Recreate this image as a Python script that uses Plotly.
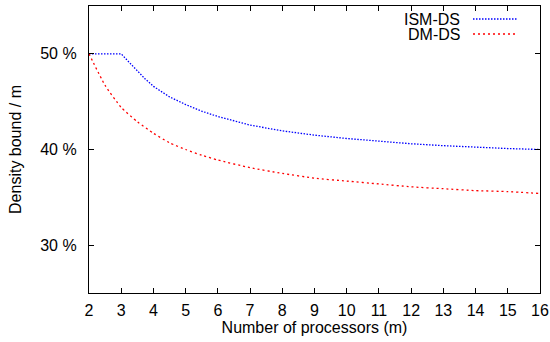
import plotly.graph_objects as go

# Number of processors (m)
m_ism = [2, 2.5, 3, 3.25, 3.5, 3.75, 4, 4.5, 5, 5.5, 6, 7, 8, 9, 10, 11, 12, 13, 14, 15, 16]
ism_ds = [50.0, 50.0, 50.0, 49.1, 48.2, 47.35, 46.6, 45.5, 44.7, 44.0, 43.45, 42.55, 41.95,
          41.5, 41.15, 40.85, 40.6, 40.4, 40.22, 40.1, 40.0]

m_dm = [2, 2.5, 3, 3.5, 4, 4.5, 5, 5.5, 6, 7, 8, 9, 10, 11, 12, 13, 14, 15, 16]
dm_ds = [50.0, 46.7, 44.4, 42.9, 41.7, 40.7, 40.0, 39.4, 38.9, 38.1, 37.5,
         37.0, 36.7, 36.4, 36.1, 35.9, 35.7, 35.6, 35.4]

x_ticks = list(range(2, 17))
y_ticks = [30, 40, 50]
y_tick_text = ["30 %", "40 %", "50 %"]

FONT = "Liberation Sans, Arial, sans-serif"
FS = 16
BLUE = "#0000ff"
RED = "#ff0000"
BLUE_DASH = "1.5px,1.5px"
RED_DASH = "2px,3px"

fig = go.Figure()
fig.add_trace(go.Scatter(x=m_ism, y=ism_ds, mode="lines", name="ISM-DS",
                         line=dict(color=BLUE, width=1.3, dash=BLUE_DASH, shape="linear")))
fig.add_trace(go.Scatter(x=m_dm, y=dm_ds, mode="lines", name="DM-DS",
                         line=dict(color=RED, width=1.3, dash=RED_DASH, shape="spline", smoothing=0.5)))

L, R, T, B = 89, 10, 6, 49
W, H = 550, 342
pw = W - L - R
ph = H - T - B

def px(xp):
    return (xp - L) / pw

def py(yp):
    return (H - B - yp) / ph

# Legend drawn gnuplot style: text right-aligned, sample line on the right
legend_items = [("ISM-DS", BLUE, BLUE_DASH, 19), ("DM-DS", RED, RED_DASH, 34)]
for label, col, dash, ypix in legend_items:
    fig.add_annotation(x=px(461), y=py(ypix), xref="paper", yref="paper",
                       text=label, showarrow=False, xanchor="right", yanchor="middle",
                       height=14, borderpad=0,
                       font=dict(family=FONT, size=FS, color="black"))
    fig.add_shape(type="line", xref="paper", yref="paper",
                  x0=px(473), x1=px(518), y0=py(ypix), y1=py(ypix),
                  line=dict(color=col, width=1.3, dash=dash))

axis_common = dict(showline=True, linecolor="black", linewidth=1.2, mirror="ticks",
                   ticks="inside", ticklen=5, tickcolor="black", tickwidth=1,
                   showgrid=False, zeroline=False,
                   tickfont=dict(family=FONT, size=FS, color="black"))

fig.update_layout(
    width=W, height=H,
    margin=dict(l=L, r=R, t=T, b=B, autoexpand=False),
    paper_bgcolor="white", plot_bgcolor="white",
    showlegend=False,
    font=dict(family=FONT, size=FS, color="black"),
    xaxis=dict(range=[2, 16], tickvals=x_ticks, ticklabelstandoff=3,
               title=dict(text="Number of processors (m)", font=dict(family=FONT, size=FS), standoff=2),
               automargin=False, **axis_common),
    yaxis=dict(range=[25, 55], tickvals=y_ticks, ticktext=y_tick_text, ticklabelstandoff=8,
               title=dict(text="Density bound / m", font=dict(family=FONT, size=FS), standoff=14),
               automargin=False, **axis_common),
)

fig.write_html("out.html", config={"displayModeBar": False},
               post_script="document.body.style.margin='0';")
